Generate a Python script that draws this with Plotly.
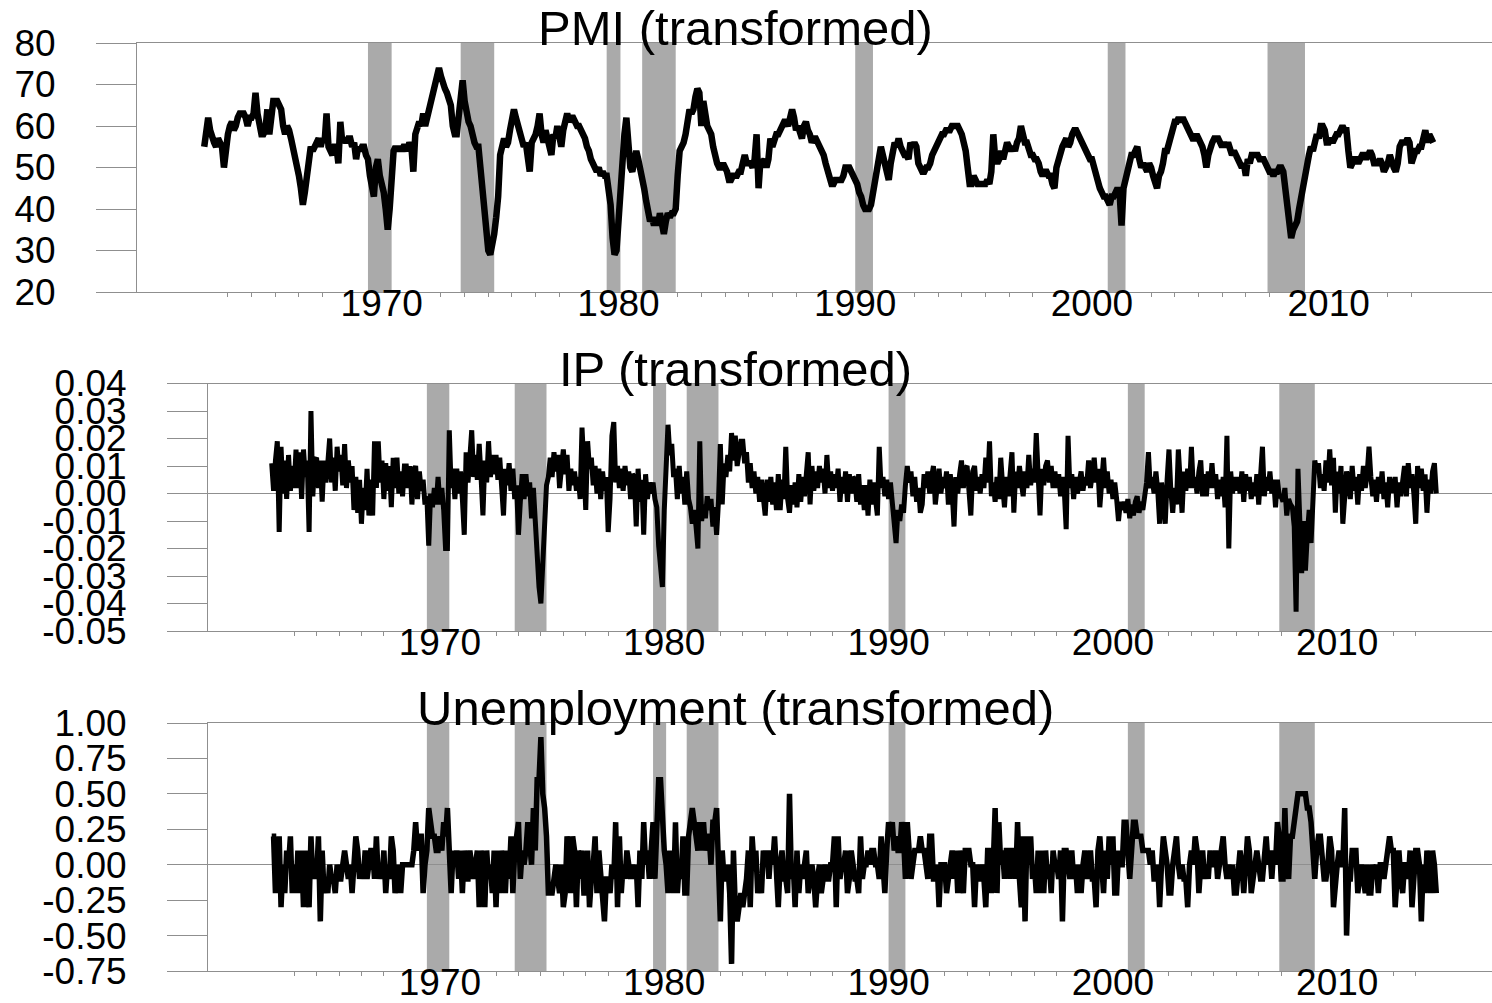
import plotly.graph_objects as go

# Monthly series, January 1963 through December 2014 (one row per year)
START_YEAR = 1963

pmi = [
    55, 58, 62, 59, 57, 56, 55, 57, 56, 55, 50, 56,   # 1963
    58, 60, 61, 59, 60, 62, 63, 63, 63, 62, 60, 62,   # 1964
    62, 63, 68, 63, 61, 58, 58, 59, 64, 58, 62, 66,   # 1965
    66, 66, 65, 64, 60, 58, 60, 59, 57, 55, 53, 51,   # 1966
    48, 45, 41, 44, 48, 52, 55, 54, 55, 56, 57, 55,   # 1967
    57, 56, 63, 55, 54, 53, 55, 55, 51, 61, 56, 57,   # 1968
    56, 57, 57, 55, 56, 52, 55, 54, 55, 55, 53, 52,   # 1969
    48, 46, 43, 50, 52, 48, 46, 44, 40, 35, 40, 48,   # 1970
    54, 55, 54, 55, 54, 55, 55, 54, 56, 55, 49, 58,   # 1971
    60, 61, 60, 63, 60, 62, 63, 66, 68, 70, 71, 74,   # 1972
    72, 70, 69, 68, 66, 65, 60, 58, 58, 64, 66, 71,   # 1973
    66, 63, 61, 60, 57, 56, 55, 55, 50, 45, 38, 31,   # 1974
    30, 29, 31, 34, 38, 43, 53, 56, 57, 55, 56, 59,   # 1975
    62, 64, 62, 60, 59, 57, 55, 56, 53, 49, 56, 57,   # 1976
    58, 60, 63, 58, 56, 59, 57, 55, 53, 58, 57, 60,   # 1977
    57, 55, 59, 62, 63, 61, 62, 62, 61, 60, 60, 59,   # 1978
    58, 57, 55, 54, 52, 51, 50, 49, 50, 48, 49, 48,   # 1979
    48, 45, 41, 33, 29, 30, 38, 47, 53, 58, 62, 55,   # 1980
    50, 49, 52, 54, 52, 50, 47, 45, 42, 39, 37, 38,   # 1981
    36, 38, 36, 39, 37, 34, 37, 39, 38, 39, 39, 40,   # 1982
    48, 54, 55, 56, 58, 63, 64, 63, 64, 67, 69, 68,   # 1983
    60, 66, 62, 60, 59, 58, 55, 52, 51, 50, 50, 51,   # 1984
    50, 49, 47, 47, 48, 48, 48, 49, 49, 51, 53, 51,   # 1985
    51, 51, 50, 52, 58, 45, 52, 51, 52, 50, 52, 57,   # 1986
    55, 57, 58, 58, 59, 60, 61, 61, 60, 62, 64, 62,   # 1987
    59, 60, 58, 57, 60, 61, 59, 58, 56, 57, 57, 56,   # 1988
    55, 54, 53, 51, 49, 48, 46, 46, 47, 47, 47, 47,   # 1989
    48, 50, 50, 50, 49, 48, 47, 46, 44, 43, 41, 40,   # 1990
    40, 40, 41, 44, 48, 51, 54, 55, 53, 51, 48, 47,   # 1991
    51, 54, 56, 55, 57, 55, 54, 53, 53, 52, 56, 55,   # 1992
    56, 55, 51, 50, 49, 49, 50, 50, 51, 53, 54, 55,   # 1993
    56, 57, 58, 58, 59, 59, 59, 60, 60, 60, 60, 59,   # 1994
    58, 56, 54, 50, 46, 46, 48, 47, 46, 46, 46, 46,   # 1995
    46, 47, 46, 49, 58, 52, 51, 52, 54, 52, 55, 56,   # 1996
    55, 54, 55, 54, 56, 57, 60, 57, 56, 56, 54, 53,   # 1997
    53, 52, 52, 51, 49, 48, 49, 49, 48, 48, 46, 45,   # 1998
    50, 52, 54, 55, 56, 57, 55, 56, 58, 59, 59, 58,   # 1999
    57, 56, 55, 54, 53, 52, 52, 50, 49, 47, 45, 44,   # 2000
    43, 43, 42, 41, 43, 43, 44, 45, 44, 36, 45, 47,   # 2001
    49, 52, 53, 53, 54, 55, 52, 50, 51, 50, 49, 51,   # 2002
    50, 48, 46, 45, 48, 49, 51, 54, 54, 56, 58, 60,   # 2003
    61, 61, 62, 61, 62, 61, 60, 59, 58, 57, 57, 58,   # 2004
    57, 56, 55, 53, 50, 53, 55, 56, 57, 57, 57, 56,   # 2005
    55, 56, 55, 56, 54, 53, 54, 53, 52, 51, 50, 51,   # 2006
    48, 52, 51, 53, 53, 53, 53, 52, 52, 52, 51, 50,   # 2007
    49, 49, 48, 49, 49, 50, 50, 49, 44, 39, 36, 33,   # 2008
    35, 36, 37, 40, 43, 45, 49, 52, 53, 55, 54, 56,   # 2009
    58, 57, 60, 60, 59, 56, 56, 57, 56, 57, 58, 58,   # 2010
    59, 60, 59, 59, 54, 50, 51, 52, 52, 51, 52, 53,   # 2011
    53, 52, 53, 54, 53, 51, 51, 51, 52, 51, 49, 50,   # 2012
    51, 53, 51, 50, 49, 51, 55, 56, 56, 56, 57, 56,   # 2013
    51, 53, 54, 54, 55, 55, 57, 59, 56, 58, 57, 56,   # 2014
]

ip = [
    0.011, 0.001, 0.012, 0.019, -0.014, 0.017, 0.000, 0.012, -0.002, 0.014, 0.001, 0.010,   # 1963
    0.002, 0.016, 0.002, 0.015, -0.002, 0.016, 0.006, 0.012, -0.014, 0.030, -0.001, 0.012,  # 1964
    0.013, 0.002, 0.012, -0.003, 0.012, 0.004, 0.011, 0.020, 0.004, 0.013, 0.001, 0.017,   # 1965
    0.008, 0.014, 0.003, 0.018, 0.002, 0.012, 0.004, 0.010, -0.006, 0.006, -0.007, 0.005,  # 1966
    -0.011, 0.002, -0.006, 0.009, -0.008, 0.005, -0.008, 0.019, 0.002, 0.019, 0.004, 0.012,  # 1967
    -0.002, 0.011, 0.001, 0.010, -0.005, 0.013, 0.002, 0.013, 0.000, 0.008, -0.001, 0.010,  # 1968
    0.010, 0.002, 0.010, -0.004, 0.008, 0.010, -0.002, 0.008, 0.001, 0.005, -0.004, -0.001,  # 1969
    -0.019, 0.000, -0.005, 0.002, -0.004, 0.006, -0.004, 0.002, -0.006, -0.020, -0.020, 0.023,  # 1970
    0.002, 0.009, -0.002, 0.009, 0.000, 0.008, -0.002, -0.015, 0.015, 0.004, 0.013, 0.023,  # 1971
    0.006, 0.014, 0.005, 0.018, 0.006, -0.008, 0.012, 0.004, 0.019, 0.006, 0.014, 0.007,   # 1972
    0.014, 0.005, 0.013, 0.003, -0.008, 0.009, 0.003, 0.011, 0.001, 0.009, -0.002, 0.003,  # 1973
    -0.015, -0.003, 0.007, -0.002, 0.007, -0.001, 0.004, -0.009, 0.002, -0.010, -0.025, -0.034,  # 1974
    -0.040, -0.024, -0.008, 0.003, 0.006, 0.013, 0.006, 0.015, 0.008, 0.014, 0.002, 0.011,  # 1975
    0.016, 0.007, 0.014, 0.001, 0.009, 0.003, 0.008, 0.001, 0.006, -0.002, 0.024, 0.010,   # 1976
    -0.006, 0.019, 0.009, 0.013, 0.003, 0.010, 0.000, 0.009, -0.002, 0.008, 0.001, 0.006,  # 1977
    -0.014, -0.002, 0.021, 0.026, 0.004, 0.010, 0.002, 0.009, 0.001, 0.010, 0.003, 0.008,  # 1978
    -0.002, 0.007, 0.006, -0.012, 0.009, -0.003, 0.005, -0.015, 0.007, -0.002, 0.004, 0.000,  # 1979
    0.004, -0.002, -0.005, -0.019, -0.030, -0.034, -0.006, 0.012, 0.025, 0.014, 0.018, 0.006,  # 1980
    0.009, -0.002, 0.010, 0.000, 0.006, -0.004, 0.008, -0.002, -0.005, -0.011, -0.006, -0.012,  # 1981
    -0.020, 0.019, -0.010, -0.004, -0.009, -0.001, -0.006, -0.002, -0.012, -0.005, -0.015, -0.003,  # 1982
    0.018, -0.004, 0.011, 0.006, 0.014, 0.008, 0.022, 0.012, 0.021, 0.010, 0.015, 0.019,   # 1983
    0.019, 0.011, 0.015, 0.004, 0.011, 0.002, 0.008, 0.000, 0.006, -0.003, 0.005, -0.002,  # 1984
    -0.008, 0.005, -0.003, 0.006, -0.004, 0.004, -0.006, 0.007, -0.006, 0.005, -0.002, 0.017,  # 1985
    -0.002, -0.007, 0.003, -0.004, 0.004, -0.005, 0.007, -0.003, 0.006, -0.001, 0.007, 0.015,  # 1986
    -0.004, 0.010, 0.001, 0.008, 0.002, 0.010, 0.004, 0.009, 0.000, 0.014, 0.002, 0.008,   # 1987
    0.001, 0.007, 0.002, 0.009, -0.003, 0.006, 0.000, 0.008, -0.003, 0.007, 0.000, 0.006,  # 1988
    0.005, -0.003, 0.007, -0.004, 0.003, -0.006, 0.003, -0.008, 0.005, -0.004, 0.004, -0.001,  # 1989
    -0.008, 0.017, 0.002, 0.006, -0.001, 0.005, -0.002, 0.004, -0.003, -0.008, -0.018, -0.006,  # 1990
    -0.010, -0.004, -0.007, 0.003, 0.010, 0.004, 0.008, -0.001, 0.006, -0.003, 0.002, -0.007,  # 1991
    -0.004, 0.007, 0.002, 0.008, 0.000, 0.006, 0.010, -0.004, 0.005, 0.009, 0.000, 0.006,  # 1992
    0.002, 0.008, -0.004, 0.007, 0.001, -0.012, 0.006, 0.000, 0.007, 0.012, 0.002, 0.009,  # 1993
    0.010, 0.003, -0.008, 0.008, 0.010, 0.001, 0.006, 0.000, 0.007, 0.002, 0.013, 0.004,   # 1994
    0.019, -0.001, 0.004, -0.003, 0.006, -0.002, 0.013, 0.003, -0.005, 0.006, -0.001, 0.007,  # 1995
    0.015, -0.007, 0.008, 0.002, 0.010, 0.004, -0.001, 0.008, 0.002, 0.014, 0.003, 0.009,  # 1996
    0.004, 0.022, 0.003, -0.008, 0.009, 0.003, 0.010, 0.012, 0.004, 0.010, 0.002, 0.008,   # 1997
    0.002, 0.007, -0.001, 0.006, 0.001, -0.013, 0.021, 0.002, 0.007, -0.002, 0.006, 0.000,  # 1998
    0.004, 0.008, 0.001, 0.006, 0.003, 0.012, 0.002, 0.008, 0.013, 0.004, 0.009, -0.005,   # 1999
    0.007, 0.013, 0.002, 0.008, 0.000, 0.005, -0.002, 0.004, -0.002, -0.010, -0.003, -0.006,  # 2000
    -0.003, -0.007, -0.002, -0.009, -0.004, -0.008, -0.003, -0.001, -0.007, -0.003, -0.006, -0.002,  # 2001
    0.004, 0.015, 0.002, 0.006, 0.000, 0.008, 0.001, -0.011, 0.004, -0.002, -0.011, 0.005,  # 2002
    0.016, 0.001, -0.007, 0.002, -0.004, 0.016, 0.001, -0.007, 0.008, 0.001, 0.009, 0.002,  # 2003
    0.017, 0.002, 0.006, 0.000, 0.008, 0.012, -0.001, 0.007, -0.001, 0.008, 0.002, 0.011,  # 2004
    0.002, 0.007, -0.002, 0.005, -0.001, 0.006, -0.005, 0.021, -0.020, 0.008, 0.000, 0.006,  # 2005
    0.001, 0.006, 0.000, 0.008, -0.003, 0.007, 0.001, 0.006, -0.002, 0.004, -0.001, 0.007,  # 2006
    -0.004, 0.008, 0.017, -0.001, 0.006, 0.001, 0.008, 0.000, 0.005, -0.005, 0.005, -0.001,  # 2007
    -0.001, -0.003, 0.002, -0.008, -0.002, -0.004, -0.005, -0.012, -0.043, 0.009, -0.015, -0.029,  # 2008
    -0.010, -0.028, -0.015, -0.006, -0.018, -0.004, 0.012, 0.008, 0.011, 0.002, 0.007, 0.001,  # 2009
    0.012, 0.004, 0.016, 0.003, 0.013, -0.007, 0.008, 0.000, 0.010, -0.011, 0.003, 0.008,  # 2010
    0.004, -0.002, 0.010, 0.001, 0.006, -0.004, 0.007, 0.001, 0.010, 0.002, 0.007, 0.017,  # 2011
    0.006, -0.001, 0.005, -0.003, 0.006, 0.000, 0.008, -0.002, 0.004, -0.005, 0.006, 0.001,  # 2012
    0.001, 0.006, -0.005, 0.004, -0.001, 0.006, 0.010, -0.001, 0.011, 0.002, 0.007, 0.000,  # 2013
    -0.011, 0.010, 0.002, 0.009, 0.001, 0.007, -0.007, 0.005, 0.000, 0.008, 0.011, 0.000,  # 2014
]

unemployment = [
    0.2, 0.2, -0.2, 0.0, 0.2, -0.3, 0.0, -0.2, 0.1, 0.0, 0.2, -0.2,     # 1963
    0.0, -0.2, 0.1, -0.2, 0.1, -0.3, 0.1, -0.1, -0.3, 0.2, -0.1, 0.0,    # 1964
    -0.1, 0.2, -0.4, 0.1, -0.2, -0.1, -0.2, 0.0, -0.1, -0.1, -0.2, 0.0,  # 1965
    -0.1, -0.1, 0.0, 0.1, 0.0, -0.1, 0.0, -0.2, 0.0, 0.2, 0.1, -0.1,    # 1966
    0.0, -0.1, 0.1, -0.1, 0.0, 0.1, 0.1, -0.1, 0.2, -0.1, 0.0, -0.1,    # 1967
    0.1, -0.2, 0.0, -0.1, 0.2, 0.1, -0.2, -0.1, 0.0, -0.2, 0.0, 0.0,    # 1968
    0.0, 0.0, 0.0, 0.0, 0.1, 0.3, 0.1, 0.2, 0.2, -0.2, 0.0, 0.1,        # 1969
    0.4, 0.3, 0.2, 0.2, 0.1, 0.1, 0.2, 0.1, 0.3, 0.2, 0.4, 0.1,         # 1970
    -0.2, 0.1, 0.0, 0.1, -0.1, 0.1, -0.2, 0.1, -0.1, -0.1, 0.1, 0.0,    # 1971
    -0.1, 0.0, 0.1, -0.3, 0.1, 0.0, -0.3, 0.1, -0.1, 0.0, -0.2, 0.1,    # 1972
    -0.3, 0.1, -0.2, 0.1, -0.1, -0.2, 0.1, -0.1, 0.2, -0.2, 0.1, 0.2,   # 1973
    0.3, -0.1, 0.1, 0.0, 0.1, 0.3, 0.1, 0.0, 0.4, 0.1, 0.6, 0.6,        # 1974
    0.9, 0.5, 0.4, 0.2, -0.2, -0.2, -0.2, -0.1, 0.0, -0.1, -0.2, 0.0,   # 1975
    -0.3, -0.2, 0.2, 0.1, -0.2, 0.2, 0.1, -0.3, 0.1, -0.1, 0.1, -0.2,   # 1976
    -0.2, 0.1, -0.3, -0.1, 0.0, 0.2, -0.2, 0.1, -0.1, -0.2, -0.4, -0.1, # 1977
    -0.1, -0.2, 0.0, -0.1, 0.3, -0.3, 0.2, -0.2, 0.0, -0.1, 0.1, 0.0,   # 1978
    -0.1, 0.0, -0.1, 0.0, -0.3, 0.1, -0.1, 0.3, 0.0, 0.1, -0.1, 0.1,    # 1979
    0.3, -0.1, 0.2, 0.6, 0.6, 0.3, 0.1, 0.0, -0.2, 0.1, -0.1, -0.2,     # 1980
    0.3, -0.2, 0.0, -0.1, 0.2, -0.2, -0.2, 0.2, 0.3, 0.4, 0.3, 0.2,     # 1981
    0.1, 0.3, 0.1, 0.3, 0.1, 0.2, 0.2, 0.0, 0.3, 0.3, 0.4, 0.0,         # 1982
    -0.4, 0.1, -0.1, -0.1, 0.0, -0.2, -0.7, 0.1, -0.3, -0.4, -0.3, -0.2,  # 1983
    -0.3, -0.2, -0.1, 0.1, -0.3, 0.2, 0.0, 0.1, -0.2, -0.1, -0.2, 0.1,  # 1984
    0.0, 0.1, -0.1, 0.1, 0.0, 0.2, -0.1, -0.3, 0.0, 0.1, -0.1, -0.1,    # 1985
    -0.2, 0.5, -0.1, 0.0, -0.3, 0.1, -0.2, 0.0, -0.1, 0.0, 0.1, -0.2,   # 1986
    -0.1, 0.0, -0.1, -0.3, -0.1, 0.0, -0.2, -0.1, 0.0, -0.1, -0.1, 0.0, # 1987
    0.0, 0.2, -0.3, 0.2, -0.1, 0.0, 0.0, 0.1, -0.2, -0.1, 0.1, 0.0,     # 1988
    -0.1, -0.1, -0.2, 0.2, -0.1, 0.0, 0.0, 0.1, 0.0, 0.1, 0.1, 0.0,     # 1989
    0.0, -0.1, 0.2, 0.0, -0.2, 0.1, 0.3, 0.2, 0.3, 0.1, 0.2, 0.1,       # 1990
    0.1, 0.3, 0.2, -0.1, 0.3, 0.1, -0.1, 0.0, 0.1, 0.1, 0.1, 0.2,       # 1991
    0.1, 0.1, 0.0, -0.1, 0.2, 0.2, -0.1, -0.1, 0.0, -0.3, 0.0, 0.0,     # 1992
    0.0, -0.2, -0.1, 0.0, 0.1, -0.1, 0.1, -0.2, 0.1, -0.1, -0.2, 0.1,   # 1993
    0.1, 0.1, 0.0, 0.0, -0.3, 0.0, -0.1, -0.1, 0.0, -0.1, -0.3, 0.1,    # 1994
    0.1, -0.2, 0.0, 0.4, -0.2, 0.3, 0.0, 0.1, -0.1, 0.1, 0.1, -0.1,     # 1995
    0.1, 0.1, -0.1, 0.3, -0.1, -0.3, 0.2, -0.4, 0.2, 0.0, 0.2, -0.1,    # 1996
    0.0, -0.2, 0.1, -0.2, 0.1, -0.2, 0.1, -0.1, 0.0, -0.2, 0.1, 0.0,    # 1997
    0.0, -0.1, 0.1, -0.4, 0.1, 0.1, 0.0, -0.1, 0.1, -0.1, 0.0, -0.2,    # 1998
    0.0, -0.2, 0.0, 0.1, -0.1, 0.0, 0.1, -0.1, -0.1, -0.3, 0.1, 0.2,    # 1999
    -0.1, -0.2, 0.1, -0.1, 0.2, 0.0, 0.2, -0.2, -0.2, 0.1, 0.0, 0.0,    # 2000
    0.3, 0.3, 0.1, -0.1, 0.1, 0.3, 0.3, 0.2, 0.2, 0.2, 0.1, 0.1,        # 2001
    0.1, 0.1, 0.0, 0.1, -0.1, -0.1, 0.0, -0.3, 0.0, 0.2, 0.1, 0.0,      # 2002
    -0.2, -0.2, 0.0, 0.1, 0.2, 0.0, -0.1, 0.0, -0.1, -0.1, -0.3, 0.0,   # 2003
    0.1, 0.0, 0.2, 0.1, -0.2, 0.0, 0.1, -0.1, 0.0, -0.1, 0.1, 0.0,      # 2004
    0.0, 0.1, -0.1, 0.0, 0.1, 0.2, 0.0, -0.1, 0.0, -0.1, 0.0, -0.2,     # 2005
    -0.2, 0.0, 0.1, 0.0, -0.2, 0.0, 0.2, 0.1, -0.2, -0.1, 0.0, 0.1,     # 2006
    0.0, -0.1, -0.1, 0.1, 0.2, 0.0, 0.1, -0.1, 0.1, 0.0, 0.3, 0.2,      # 2007
    -0.1, -0.1, 0.4, 0.0, -0.1, 0.2, 0.2, 0.3, 0.4, 0.5, 0.5, 0.5,      # 2008
    0.5, 0.5, 0.4, 0.4, 0.3, 0.1, -0.1, 0.1, 0.2, 0.2, 0.0, -0.1,       # 2009
    -0.1, 0.0, 0.2, 0.1, -0.3, -0.1, 0.0, 0.1, 0.0, 0.0, 0.4, -0.5,     # 2010
    -0.1, -0.1, 0.1, 0.1, 0.1, -0.2, -0.1, 0.0, -0.1, -0.2, 0.0, -0.2,  # 2011
    -0.2, 0.0, -0.1, 0.0, -0.2, 0.0, 0.0, -0.1, 0.0, 0.1, 0.2, 0.1,     # 2012
    0.1, -0.3, 0.0, 0.1, -0.1, -0.2, 0.0, 0.0, -0.1, 0.1, -0.3, -0.1,   # 2013
    0.1, 0.1, 0.0, -0.4, 0.0, -0.2, 0.1, 0.0, -0.2, 0.1, 0.0, -0.2,     # 2014
]

# NBER recession periods (start, end) in decimal years
recession_start = [1969.917, 1973.833, 1980.000, 1981.500, 1990.500, 2001.167, 2007.917]
recession_end = [1970.917, 1975.250, 1980.583, 1982.917, 1991.250, 2001.917, 2009.500]

decade_labels = ["1970", "1980", "1990", "2000", "2010"]
minor_years = [1964, 1965, 1966, 1967, 1968, 1973, 1974, 1975, 1976, 1977, 1978,
               1983, 1984, 1985, 1986, 1987, 1988, 1993, 1994, 1995, 1996, 1997, 1998,
               2003, 2004, 2005, 2006, 2007, 2008, 2013, 2014]

pmi_ticks = [20, 30, 40, 50, 60, 70, 80]
ip_ticks = [-0.05, -0.04, -0.03, -0.02, -0.01, 0.00, 0.01, 0.02, 0.03, 0.04]
unemp_ticks = [-0.75, -0.50, -0.25, 0.00, 0.25, 0.50, 0.75, 1.00]

titles = ["PMI (transformed)", "IP (transformed)", "Unemployment (transformed)"]

assert len(pmi) == len(ip) == len(unemployment) == 12 * 52

months = [START_YEAR + i / 12 for i in range(len(pmi))]

# ---- figure geometry (pixels) ----
W, H = 1492, 1003
FONT = "Liberation Sans, Arial, Helvetica, sans-serif"
AXIS_GREY = "#8f8f8f"
BAND_GREY = "#aaaaaa"
X_RANGE = [1960.16, 2017.4]

panels = [
    dict(left=137, top=43, bottom=292, rng=[20, 80], ticks=pmi_ticks,
         text=[str(t) for t in pmi_ticks], zero=False, width=6.5),
    dict(left=208, top=383.5, bottom=631, rng=[-0.05, 0.04], ticks=ip_ticks,
         text=[f"{t:.2f}" for t in ip_ticks], zero=True, width=5.0),
    dict(left=208, top=723, bottom=971, rng=[-0.75, 1.0], ticks=unemp_ticks,
         text=[f"{t:.2f}" for t in unemp_ticks], zero=True, width=5.5),
]
series = [pmi, ip, unemployment]

fig = go.Figure()
layout = dict(
    width=W, height=H, autosize=False,
    margin=dict(l=0, r=0, t=0, b=0, pad=0, autoexpand=False),
    paper_bgcolor="white", plot_bgcolor="white",
    showlegend=False,
    font=dict(family=FONT, color="black", size=37),
    shapes=[], annotations=[],
)

for i, (p, vals) in enumerate(zip(panels, series)):
    n = "" if i == 0 else str(i + 1)
    xname, yname = "xaxis" + n, "yaxis" + n
    xref, yref = "x" + n, "y" + n

    fig.add_trace(go.Scatter(
        x=months, y=vals, mode="lines",
        line=dict(color="black", width=p["width"]),
        xaxis=xref, yaxis=yref, hoverinfo="skip",
    ))

    layout[xname] = dict(
        domain=[p["left"] / W, 1.0], anchor=yref, range=X_RANGE,
        automargin=False,
        showgrid=False, zeroline=False,
        showline=True, linecolor=AXIS_GREY, linewidth=1, mirror=True,
        tickmode="array",
        tickvals=[int(lbl) + 0.5 for lbl in decade_labels],
        ticktext=decade_labels, ticks="",
        tickfont=dict(size=37, family=FONT, color="black"),
        ticklabelstandoff=-21,
        minor=dict(tickmode="array", tickvals=minor_years, ticks="outside",
                   ticklen=4, tickwidth=1, tickcolor=AXIS_GREY, showgrid=False),
    )
    layout[yname] = dict(
        domain=[1 - p["bottom"] / H, 1 - p["top"] / H], anchor=xref, range=p["rng"],
        automargin=False,
        showgrid=False,
        zeroline=p["zero"], zerolinecolor=AXIS_GREY, zerolinewidth=1,
        showline=True, linecolor=AXIS_GREY, linewidth=1,
        tickmode="array", tickvals=p["ticks"], ticktext=p["text"],
        ticks="outside", ticklen=40, tickwidth=1, tickcolor=AXIS_GREY,
        tickfont=dict(size=37, family=FONT, color="black"),
        ticklabelstandoff=33,
    )

    for x0, x1 in zip(recession_start, recession_end):
        layout["shapes"].append(dict(
            type="rect", xref=xref, yref=yref + " domain",
            x0=x0, x1=x1, y0=0, y1=1,
            fillcolor=BAND_GREY, line=dict(width=0), layer="below",
        ))

    # panel title sits on the top frame line
    title_size = 49
    baseline = p["top"] + 2
    mid = baseline - 0.3465 * title_size
    layout["annotations"].append(dict(
        text=titles[i], xref="paper", yref="paper",
        x=735 / W, y=1 - mid / H, xanchor="center", yanchor="middle",
        showarrow=False, font=dict(size=title_size, family=FONT, color="black"),
    ))

fig.update_layout(**layout)
fig.write_html("out.html")
